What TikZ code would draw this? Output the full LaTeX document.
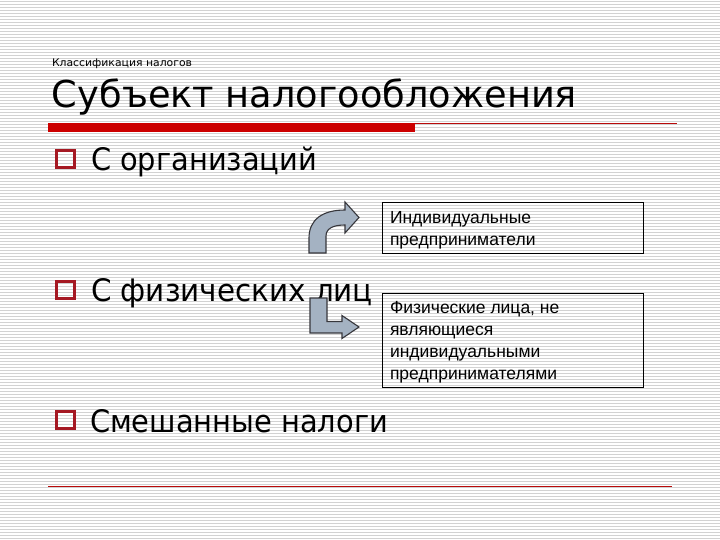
\documentclass[tikz,border=0pt]{standalone}
\usepackage{fontspec}
\usepackage{graphicx}
\setmainfont{DejaVu Sans}
\newfontfamily\boxfont{Liberation Sans}
\definecolor{stripecol}{RGB}{210,210,210}
\definecolor{barred}{RGB}{204,0,0}
\definecolor{linered}{RGB}{185,10,10}
\definecolor{bulletred}{RGB}{165,25,35}
\definecolor{arrowfill}{RGB}{164,178,194}
\definecolor{arrowline}{RGB}{55,55,60}
\newcommand\fitw[2]{\resizebox{#1}{\height}{#2}}
\tikzset{
  stripe/.style={draw=stripecol, line width=1pt},
  txt/.style={inner sep=0pt, outer sep=0pt, anchor=base west},
  bulletbox/.style={draw=bulletred, line width=3.4pt, minimum width=17.5pt, minimum height=17.5pt, inner sep=0pt},
  infobox/.style={draw=black, line width=1pt, inner sep=0pt, anchor=north west},
  blockarrow/.style={fill=arrowfill, draw=arrowline, line width=1.1pt, line join=miter},
  boxtxt/.style={txt, font=\boxfont\fontsize{17.5}{19}\selectfont},
  bullettxt/.style={txt, font=\fontsize{31}{34}\selectfont}
}
\begin{document}
\begin{tikzpicture}[x=1pt,y=-1pt]
\useasboundingbox (0,0) rectangle (720,540);
\fill[white] (0,0) rectangle (720,540);
\foreach \k in {0,...,180} {\draw[stripe] (0,1.5+3*\k) -- (720,1.5+3*\k);}
% header
\node[txt, font=\fontsize{10.5}{12}\selectfont] (sub) at (52,67) {\fitw{140pt}{Классификация налогов}};
\node[txt, font=\fontsize{37}{40}\selectfont] (title) at (52,108) {\fitw{525pt}{Субъект налогообложения}};
\fill[barred] (48,123) rectangle (415,132);
\coordinate (thinA) at (415,123.5);
\coordinate (thinB) at (677,123.5);
\draw[linered, line width=1pt] (thinA) -- (thinB);
% bullets
\node[bulletbox] (b1) at (65.5,159) {};
\node[bullettxt] (t1) at (91,171) {\fitw{226pt}{С организаций}};
\node[bulletbox] (b2) at (65.5,290) {};
\node[bullettxt] (t2) at (91,301) {\fitw{282pt}{С физических лиц}};
\node[bulletbox] (b3) at (65.5,420) {};
\node[bullettxt] (t3) at (90,432) {\fitw{298pt}{Смешанные налоги}};
% info boxes
\node[infobox, minimum width=261pt, minimum height=51pt] (box1) at (382,202) {};
\node[boxtxt] (l11) at (390,223) {Индивидуальные};
\node[boxtxt] (l12) at (390,245) {предприниматели};
\node[infobox, minimum width=261pt, minimum height=94pt] (box2) at (382,293) {};
\node[boxtxt] (l21) at (390,313) {Физические лица, не};
\node[boxtxt] (l22) at (390,335) {являющиеся};
\node[boxtxt] (l23) at (390,357) {индивидуальными};
\node[boxtxt] (l24) at (390,379) {предпринимателями};
% bent arrows
\draw[blockarrow] (309,253) -- (309,238) .. controls (309,220) and (322,210) .. (345,210)
  -- (345,202) -- (359,217.5) -- (345,233) -- (345,225)
  .. controls (334,225) and (326,228) .. (326,236) -- (326,253) -- cycle;
\draw[blockarrow] (310,298) -- (327,298) -- (327,321.5) -- (342,321.5) -- (342,315.5)
  -- (359,327) -- (342,338.5) -- (342,333) -- (310,333) -- cycle;
% bottom line
\coordinate (botA) at (48,486);
\coordinate (botB) at (672,486);
\draw[linered, line width=1pt] (botA) -- (botB);
\end{tikzpicture}
\end{document}
